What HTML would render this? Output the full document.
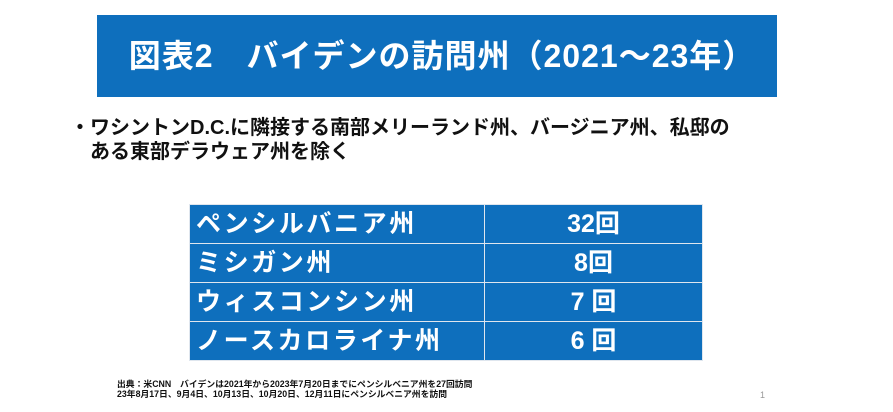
<!DOCTYPE html>
<html><head><meta charset="utf-8"><style>
body{margin:0;width:893px;height:412px;background:#fff;position:relative;overflow:hidden;font-family:"Liberation Sans","Noto Sans CJK JP",sans-serif;}
.hdr{position:absolute;left:97px;top:15px;width:670px;padding-left:10px;height:82px;background:#0e6fbd;color:#fff;font-weight:bold;font-size:32px;line-height:82px;text-align:center;letter-spacing:1px}
.b{position:absolute;left:70px;top:116px;font-size:20px;font-weight:bold;color:#111;line-height:24px;width:780px}
table{position:absolute;left:189px;top:204px;width:514px;border-collapse:collapse;background:#0e6fbd;color:#fff;font-weight:bold;font-size:25px}
td{height:38px;border:1.5px solid #dfe6ee;padding:0 6px;line-height:36px;letter-spacing:2.6px}
td.n{text-align:center;width:205px;letter-spacing:0}
.s{position:absolute;left:117px;top:379px;font-size:8.8px;font-weight:bold;line-height:10px;color:#111}
.p{position:absolute;left:760px;top:390px;font-size:9px;color:#999}
</style></head><body>
<div class="hdr">図表2　バイデンの訪問州（2021～23年）</div>
<div class="b">・ワシントンD.C.に隣接する南部メリーランド州、バージニア州、私邸の<br>　ある東部デラウェア州を除く</div>
<table>
<tr><td>ペンシルバニア州</td><td class="n">32回</td></tr>
<tr><td>ミシガン州</td><td class="n">8回</td></tr>
<tr><td>ウィスコンシン州</td><td class="n">7 回</td></tr>
<tr><td>ノースカロライナ州</td><td class="n">6 回</td></tr>
</table>
<div class="s">出典：米CNN　バイデンは2021年から2023年7月20日までにペンシルベニア州を27回訪問<br>23年8月17日、9月4日、10月13日、10月20日、12月11日にペンシルベニア州を訪問</div>
<div class="p">1</div>
</body></html>
